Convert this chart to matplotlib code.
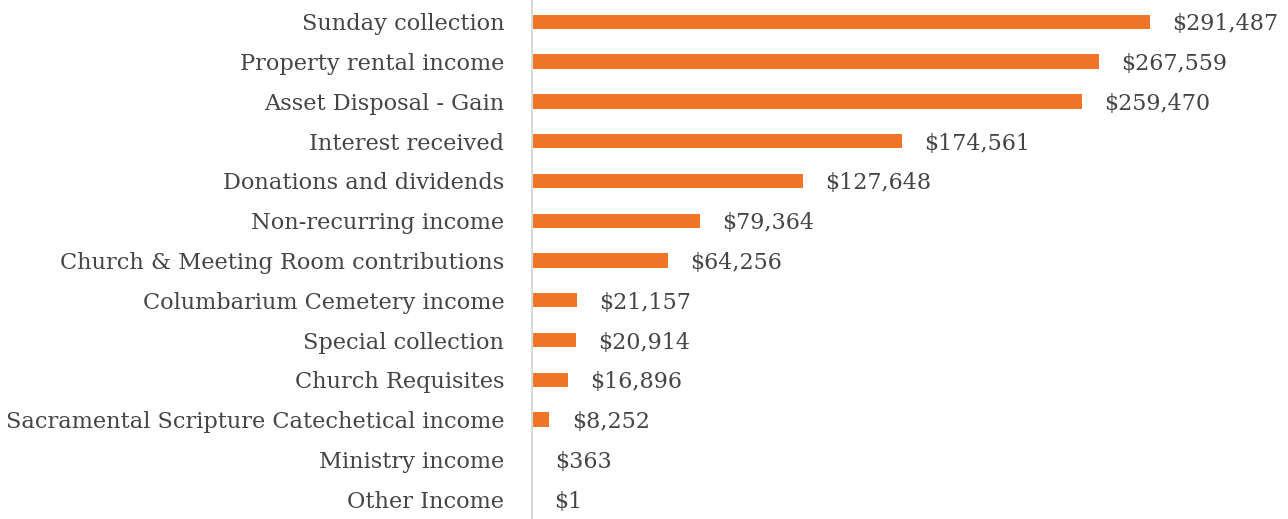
import matplotlib.pyplot as plt

categories = [
    "Sunday collection",
    "Property rental income",
    "Asset Disposal - Gain",
    "Interest received",
    "Donations and dividends",
    "Non-recurring income",
    "Church & Meeting Room contributions",
    "Columbarium Cemetery income",
    "Special collection",
    "Church Requisites",
    "Sacramental Scripture Catechetical income",
    "Ministry income",
    "Other Income",
]
values = [291487, 267559, 259470, 174561, 127648, 79364, 64256,
          21157, 20914, 16896, 8252, 363, 1]

BAR_COLOR = "#F07528"
TEXT_COLOR = "#454545"
FONT = ["DejaVu Serif"]

fig = plt.figure(figsize=(12.88, 5.19), dpi=100)
ax = fig.add_axes([532 / 1288, 0, 756 / 1288, 1])

pos = list(range(len(categories)))
ax.barh(pos, values, height=0.36, color=BAR_COLOR)

for y, v in zip(pos, values):
    ax.annotate(f"${v:,}", xy=(v, y), xytext=(16, 0), textcoords="offset points",
                va="center_baseline", ha="left", fontsize=16, color=TEXT_COLOR, family=FONT)

ax.set_xlim(0, 356600)
ax.set_ylim(12.5, -0.55)
ax.set_yticks(pos)
ax.set_yticklabels(categories, fontsize=16.2, color=TEXT_COLOR, family=FONT,
                   va="center_baseline")
ax.tick_params(axis="y", length=0, pad=20)
ax.set_xticks([])
for side in ["top", "right", "bottom"]:
    ax.spines[side].set_visible(False)
ax.spines["left"].set_color("#d9d9d9")
ax.spines["left"].set_linewidth(1.5)

fig.savefig("out.png", dpi=100)
